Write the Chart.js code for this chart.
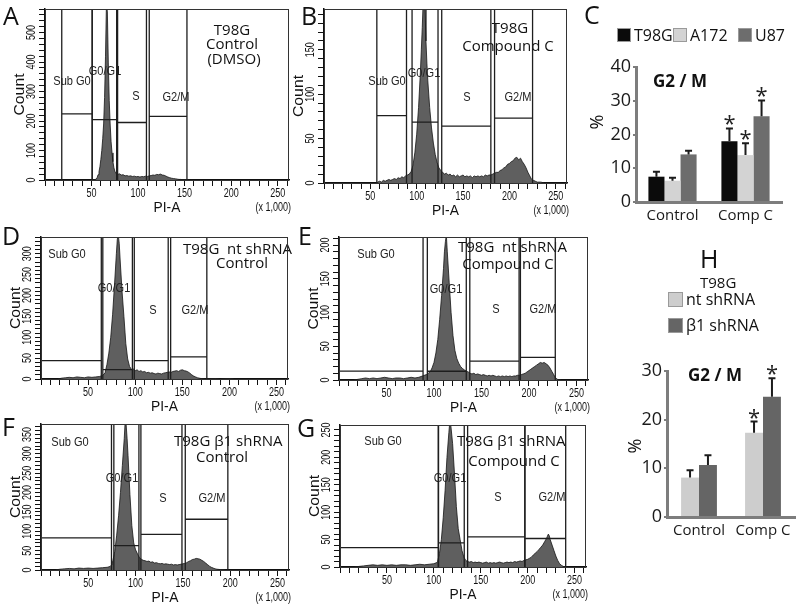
<!DOCTYPE html>
<html><head><meta charset="utf-8"><title>Cell cycle analysis</title>
<script src="https://cdn.jsdelivr.net/npm/chart.js@4.4.1/dist/chart.umd.min.js"></script>
<style>
html,body{margin:0;padding:0;background:#fff}
#wrap{position:relative;width:800px;height:610px;overflow:hidden;background:#fff}
#wrap canvas{position:absolute}
</style></head><body><div id="wrap"></div>
<script>
// ================= DATA =================
const PI_A_MAX = 262.144;               // PI-A axis (x 1,000)
const gateNames = ['Sub G0', 'G0/G1', 'S', 'G2/M'];

// A : T98G Control (DMSO)
const titleA = ['T98G', 'Control', '(DMSO)'];
const histA_x     = [50,52,54,55,56,57,58,59,60,61,62,63,64,65,66,67,68,69,70,71,72,73,74,75,76,77,78,80,82,84,86,88,90,92,94,96,98,100,102,104,106,108,110,112,114,116,118,120,122,124,126,128,130,132,134,136,138,140,142,144,146,148,150,152,156,160];
const histA_count = [0,1,2,3,8,18,28,45,70,100,140,190,280,420,600,570,400,270,190,130,92,62,42,30,24,20,19,21,17,18,14,15,13,14,12,13,11,12,10,12,11,13,12,14,15,17,16,19,18,20,17,16,13,10,8,6,5,4,3,2,2,1,1,1,0,0];
const gatesA = [[18,50.7,224],[50.7,77,205],[78,109,195],[112,152.5,216]];   // [from, to, marker level]

// B : T98G Compound C
const titleB = ['T98G', 'Compound C'];
const histB_x     = [56,58,60,62,64,66,68,70,72,74,76,78,80,82,84,86,88,90,92,94,96,98,100,102,104,105,106,107,108,109,110,111,112,114,116,118,120,122,124,126,128,130,132,134,136,138,140,142,144,146,148,150,152,154,156,158,160,162,164,166,168,170,172,174,176,178,180,182,184,186,188,190,192,194,196,198,200,202,204,206,208,210,212,214,216,218,220,222,224,226,228,230,234,238];
const histB_count = [0,1,2,1,3,2,3,4,3,4,5,4,6,5,7,6,8,9,10,13,20,34,55,85,125,150,175,205,215,195,160,135,115,85,62,45,32,23,17,14,12,10,11,9,10,8,9,7,9,7,8,9,7,8,7,8,6,8,7,8,7,8,7,9,8,9,9,10,11,12,12,14,15,17,18,21,22,24,25,28,29,26,28,24,21,17,12,8,4,3,2,1,1,0];
const gatesB = [[57,89,76],[95,123,68.6],[127,180,64],[184,225,73]];

// D : T98G nt shRNA Control
const titleD = ['T98G  nt shRNA', 'Control'];
const histD_x     = [18,22,26,30,34,38,42,46,50,54,58,62,65,67,68,70,72,74,76,78,80,81,82,83,84,86,88,90,92,94,96,98,100,102,104,106,108,110,112,114,116,118,120,122,124,126,128,130,132,134,136,138,140,142,144,146,148,150,152,154,156,158,160,162,164,166,168,170,174,185,190,200,205];
const histD_count = [0,2,3,4,3,5,4,3,5,4,5,6,8,12,15,35,62,100,155,225,300,335,345,325,285,210,150,85,48,30,23,24,20,22,18,20,17,18,15,16,14,15,13,12,14,13,12,14,15,16,17,16,18,19,20,18,21,22,20,19,17,14,10,7,5,3,2,1,0,1,0,1,0];
const gatesD = [[0,64,44],[65.6,97,22.5],[99,135,44],[137.6,176,53]];

// E : T98G nt shRNA Compound C
const titleE = ['T98G  nt shRNA', 'Compound C'];
const histE_x     = [15,20,24,28,32,36,40,44,48,52,56,60,64,68,72,76,80,84,88,92,94,96,98,100,102,104,106,108,110,111,112,113,114,116,118,120,122,124,126,128,130,132,134,136,138,140,142,144,146,148,150,152,154,156,158,160,162,164,166,168,170,172,174,176,178,180,182,184,186,188,190,192,194,196,198,200,202,204,206,208,210,212,214,216,218,220,222,224,226,228,230,234];
const histE_count = [0,1,2,3,2,3,2,3,4,3,2,3,3,2,3,4,3,4,6,8,10,12,18,26,40,60,90,125,165,190,205,215,190,145,100,66,44,32,25,20,17,15,13,12,10,9,10,8,9,8,7,8,7,6,7,6,7,6,5,6,5,6,5,6,5,6,5,6,6,7,7,8,9,10,12,14,16,18,20,22,24,26,25,26,24,22,18,13,8,3,1,0];
const gatesE = [[0,88.5,13.3],[93,134,13],[137.7,189.6,28],[191,227.7,33.6]];

// F : T98G β1 shRNA Control
const titleF = ['T98G β1 shRNA', 'Control'];
const histF_x     = [15,20,25,30,35,40,45,50,55,60,65,70,73,75,76,78,80,82,84,86,88,89,90,91,92,94,96,98,100,102,104,106,108,110,112,114,116,118,120,122,124,126,128,130,132,134,136,138,140,142,144,146,148,150,152,154,156,158,160,162,164,166,168,170,172,174,176,178,180,182,184,186,190,196];
const histF_count = [0,2,3,4,3,5,4,5,4,5,6,7,9,14,25,48,90,140,200,270,340,385,375,340,295,195,115,70,52,42,32,28,25,24,22,23,20,21,18,19,17,16,17,15,16,15,14,15,13,14,13,14,15,16,17,19,22,24,27,28,30,29,28,25,22,18,14,10,7,5,3,2,1,0];
const gatesF = [[0,74.5,83],[77,103.5,63],[105.6,149,92],[152.5,197.5,131]];

// G : T98G β1 shRNA Compound C
const titleG = ['T98G β1 shRNA', 'Compound C'];
const histG_x     = [15,20,25,30,35,40,45,50,55,60,65,70,75,80,85,90,95,100,103,104,106,108,110,112,114,116,117,118,120,122,124,126,128,130,132,134,136,138,140,142,144,146,148,150,152,154,156,158,160,162,164,166,168,170,172,174,176,178,180,182,184,186,188,190,192,194,196,198,200,202,204,206,208,210,212,214,216,218,220,221,222,223,224,226,228,230,232,234,236,238,242];
const histG_count = [0,1,2,3,4,3,4,3,4,3,4,4,3,4,5,4,5,6,8,10,25,50,90,140,200,245,265,260,225,170,110,70,50,30,18,12,10,9,10,8,9,8,9,8,7,8,9,7,8,7,8,7,8,9,8,7,8,9,8,9,8,10,9,10,11,10,12,13,14,16,18,22,25,28,32,36,40,46,52,56,60,57,50,40,30,20,12,6,3,1,0];
const gatesG = [[0,104.7,35.5],[105,132.4,44],[136,197,55],[197,240.5,52]];

// C : G2/M (%) by cell line
const barC_categories = ['Control', 'Comp C'];
const barC_series = ['T98G', 'A172', 'U87'];
const barC_T98G = [7.5, 18.0];   const barC_T98G_err = [1.5, 3.8];
const barC_A172 = [6.3, 13.9];   const barC_A172_err = [0.9, 3.5];
const barC_U87  = [14.1, 25.4];  const barC_U87_err  = [1.1, 4.7];
const barC_signif = [false, true];
const barC_ymax = 40;

// H : T98G G2/M (%) by shRNA
const barH_header = 'T98G';
const barH_categories = ['Control', 'Comp C'];
const barH_series = ['nt shRNA', 'β1 shRNA'];
const barH_nt = [8.1, 17.3];  const barH_nt_err = [1.5, 2.3];
const barH_b1 = [10.7, 24.7]; const barH_b1_err = [2.0, 3.8];
const barH_signif = [false, true];
const barH_ymax = 30;

// ================= DRAWING =================
const SANS = '"Open Sans", "Noto Sans", sans-serif';
const FACS = '"Liberation Sans", Arial, sans-serif';

function T(ctx, s, x, y, o) {
  o = o || {};
  ctx.save();
  ctx.font = o.font || ('12px ' + FACS);
  ctx.fillStyle = o.color || '#111';
  ctx.textAlign = o.align || 'center';
  ctx.textBaseline = o.baseline || 'middle';
  ctx.translate(x, y);
  if (o.rot) ctx.rotate(o.rot);
  if (o.sx) ctx.scale(o.sx, 1);
  ctx.fillText(s, 0, 0);
  ctx.restore();
}
function mk(box) {
  const c = document.createElement('canvas');
  c.width = box.w; c.height = box.h;
  c.style.left = box.x + 'px'; c.style.top = box.y + 'px';
  c.style.width = box.w + 'px'; c.style.height = box.h + 'px';
  document.getElementById('wrap').appendChild(c);
  return c;
}

const histPanels = [
  {id:'A', xs:histA_x, ys:histA_count, gates:gatesA, title:titleA, box:{x:0,y:0,w:295,h:222}, plot:{l:45,t:9,r:289,b:180}, ymax:580, ystep:20, ylab:100,
   gateLab:[[72,81],[105,71],[136,96],[176,97]], titlePos:[[232,31],[232,45],[234,60]], letter:[3,25]},
  {id:'B', xs:histB_x, ys:histB_count, gates:gatesB, title:titleB, box:{x:292,y:0,w:285,h:222}, plot:{l:324,t:9,r:567,b:183}, ymax:196, ystep:10, ylab:50,
   gateLab:[[387,81],[424,73],[467,97],[518,97]], titlePos:[[510,29],[508,47]], letter:[301,25]},
  {id:'D', xs:histD_x, ys:histD_count, gates:gatesD, title:titleD, box:{x:0,y:215,w:295,h:200}, plot:{l:41,t:237,r:288,b:379}, ymax:340, ystep:10, ylab:50,
   gateLab:[[67,254],[114,288],[153,310],[195,310]], titlePos:[[183,250,'left'],[242,264]], letter:[2,245]},
  {id:'E', xs:histE_x, ys:histE_count, gates:gatesE, title:titleE, box:{x:292,y:215,w:305,h:200}, plot:{l:339,t:237,r:588,b:380}, ymax:212, ystep:10, ylab:50,
   gateLab:[[376,254],[446,289],[496,309],[543,309]], titlePos:[[458,248,'left'],[508,265]], letter:[298,245]},
  {id:'F', xs:histF_x, ys:histF_count, gates:gatesF, title:titleF, box:{x:0,y:410,w:295,h:200}, plot:{l:41,t:424,r:289,b:570}, ymax:377, ystep:10, ylab:50,
   gateLab:[[70,442],[122,478],[163,498],[212,498]], titlePos:[[174,442,'left'],[222,458]], letter:[2,436]},
  {id:'G', xs:histG_x, ys:histG_count, gates:gatesG, title:titleG, box:{x:292,y:410,w:305,h:200}, plot:{l:340,t:425,r:586,b:567}, ymax:259, ystep:10, ylab:50,
   gateLab:[[383,441],[450,478],[498,497],[552,497]], titlePos:[[457,442,'left'],[514,462]], letter:[297,437]}
];

function drawHist(p) {
  const cv = mk(p.box);
  const YW = 7, XH = 7;
  const pad = {left: p.plot.l - p.box.x - YW, top: p.plot.t - p.box.y,
               right: p.box.x + p.box.w - p.plot.r, bottom: p.box.y + p.box.h - p.plot.b - XH};
  const plug = {
    id: 'facs' + p.id,
    afterDatasetsDraw(chart) {
      const ctx = chart.ctx, xs = chart.scales.x, ys = chart.scales.y, ca = chart.chartArea;
      ctx.save(); ctx.translate(-p.box.x, -p.box.y);
      p.title.forEach((s, i) => { const tp = p.titlePos[i]; T(ctx, s, tp[0], tp[1], {font:'15px ' + SANS, align: tp[2] || 'center', color:'#111'}); });
      gateNames.forEach((s, i) => { const g = p.gateLab[i]; T(ctx, s, g[0], g[1], {font:'13px ' + FACS, sx:0.85, color:'#222'}); });
      ctx.restore();
      ctx.save();
      ctx.strokeStyle = '#1e1e1e'; ctx.lineWidth = 1.3;
      p.gates.forEach(g => {
        const x1 = xs.getPixelForValue(g[0]), x2 = xs.getPixelForValue(g[1]), y = ys.getPixelForValue(g[2]);
        ctx.beginPath();
        ctx.moveTo(x1, ca.bottom); ctx.lineTo(x1, ca.top);
        ctx.moveTo(x2, ca.bottom); ctx.lineTo(x2, ca.top);
        ctx.moveTo(x1, y); ctx.lineTo(x2, y);
        ctx.stroke();
      });
      ctx.restore();
    },
    afterDraw(chart) {
      const ctx = chart.ctx, xs = chart.scales.x, ys = chart.scales.y, ca = chart.chartArea;
      ctx.save();
      ctx.strokeStyle = '#333'; ctx.lineWidth = 1;
      ctx.strokeRect(Math.round(ca.left) + 0.5, Math.round(ca.top) + 0.5, Math.round(ca.right - ca.left) - 1, Math.round(ca.bottom - ca.top));
      xs.ticks.forEach(t => { if (t.value > 0 && t.value % 50 === 0) T(ctx, String(t.value), xs.getPixelForValue(t.value), ca.bottom + 14, {font:'12px ' + FACS, sx:0.75}); });
      ys.ticks.forEach(t => { if (t.value % p.ylab === 0) T(ctx, String(t.value), ca.left - 13, ys.getPixelForValue(t.value), {font:'12px ' + FACS, sx:0.75, rot:-Math.PI / 2}); });
      const mid = (ca.left + ca.right) / 2;
      T(ctx, 'PI-A', mid, ca.bottom + 28, {font:'15px ' + FACS, sx:0.92});
      T(ctx, '(x 1,000)', ca.right + 2, ca.bottom + 28, {font:'12px ' + FACS, sx:0.75, align:'right'});
      T(ctx, 'Count', ca.left - 25, (ca.top + ca.bottom) / 2, {font:'15px ' + FACS, sx:1.05, rot:-Math.PI / 2});
      ctx.restore();
      ctx.save(); ctx.translate(-p.box.x, -p.box.y);
      T(ctx, p.id, p.letter[0], p.letter[1], {font:'25px ' + SANS, align:'left', baseline:'alphabetic'});
      ctx.restore();
    }
  };
  new Chart(cv, {
    type: 'line',
    data: {datasets: [{data: p.xs.map((v, i) => ({x: v, y: p.ys[i]})), fill: 'origin',
      backgroundColor: '#5f5f5f', borderColor: '#151515', borderWidth: 0.8, pointRadius: 0, tension: 0}]},
    options: {
      responsive: false, animation: false, events: [],
      layout: {padding: pad},
      plugins: {legend: {display: false}, tooltip: {enabled: false}},
      scales: {
        x: {type: 'linear', min: 0, max: PI_A_MAX, afterFit: s => { s.height = XH; },
            grid: {drawOnChartArea: false, drawTicks: true, tickLength: 6, color: '#111', lineWidth: 1},
            border: {color: '#111', width: 1.5},
            ticks: {stepSize: 10, includeBounds: false, autoSkip: false, display: false}},
        y: {type: 'linear', min: 0, max: p.ymax, afterFit: s => { s.width = YW; },
            grid: {drawOnChartArea: false, drawTicks: true, tickLength: 6, color: '#111', lineWidth: 1},
            border: {color: '#111', width: 1.5},
            ticks: {stepSize: p.ystep, includeBounds: false, autoSkip: false, display: false}}
      }
    },
    plugins: [plug]
  });
}

const barPanels = [
  {id:'C', cats:barC_categories, series:barC_series, vals:[barC_T98G, barC_A172, barC_U87], errs:[barC_T98G_err, barC_A172_err, barC_U87_err],
   sig:barC_signif, ymax:barC_ymax, colors:['#0b0b0b', '#d3d3d3', '#6d6d6d'],
   box:{x:570,y:0,w:230,h:232}, plot:{l:636,t:67,r:782,b:202}, catPct:0.66,
   letter:[584,24], legend:{type:'row', boxes:[[617,28],[673,28],[738,28]], size:14, header:null},
   title:[653,82], pct:[598,122]},
  {id:'H', cats:barH_categories, series:barH_series, vals:[barH_nt, barH_b1], errs:[barH_nt_err, barH_b1_err],
   sig:barH_signif, ymax:barH_ymax, colors:['#cdcdcd', '#656565'],
   box:{x:590,y:240,w:210,h:300}, plot:{l:667,t:371,r:795,b:517}, catPct:0.56,
   letter:[700,268], legend:{type:'col', boxes:[[668,292],[668,318]], size:15, header:[barH_header, 700, 284]},
   title:[688,376], pct:[636,446]}
];

function drawBar(p) {
  const cv = mk(p.box);
  const YW = 34, XH = 26;
  const pad = {left: p.plot.l - p.box.x - YW, top: p.plot.t - p.box.y,
               right: p.box.x + p.box.w - p.plot.r, bottom: p.box.y + p.box.h - p.plot.b - XH};
  const plug = {
    id: 'bars' + p.id,
    afterDatasetsDraw(chart) {
      const ctx = chart.ctx, ys = chart.scales.y;
      ctx.save();
      chart.data.datasets.forEach((ds, i) => {
        chart.getDatasetMeta(i).data.forEach((bar, j) => {
          const v = p.vals[i][j], e = p.errs[i][j];
          const yb = ys.getPixelForValue(v), yt = ys.getPixelForValue(v + e);
          ctx.strokeStyle = '#1c1c1c'; ctx.lineWidth = 2;
          ctx.beginPath();
          ctx.moveTo(bar.x, yb); ctx.lineTo(bar.x, yt);
          ctx.moveTo(bar.x - 3.5, yt); ctx.lineTo(bar.x + 3.5, yt);
          ctx.stroke();
          if (p.sig[j]) T(ctx, '*', bar.x, yt + 3, {font:'22px ' + SANS, baseline:'alphabetic', color:'#222'});
        });
      });
      ctx.restore();
    },
    afterDraw(chart) {
      const ctx = chart.ctx;
      ctx.save(); ctx.translate(-p.box.x, -p.box.y);
      const L = p.legend, sz = L.size;
      chart.data.datasets.forEach((ds, i) => {
        const b = L.boxes[i];
        ctx.fillStyle = ds.backgroundColor; ctx.fillRect(b[0], b[1], sz, sz);
        ctx.strokeStyle = '#9a9a9a'; ctx.lineWidth = 1; ctx.strokeRect(b[0] + 0.5, b[1] + 0.5, sz - 1, sz - 1);
        T(ctx, ds.label, b[0] + sz + 3, b[1] + sz / 2 + 1, {font:'16px ' + SANS, align:'left', color:'#111'});
      });
      if (L.header) T(ctx, L.header[0], L.header[1], L.header[2], {font:'15px ' + SANS, align:'left', color:'#111'});
      T(ctx, 'G2 / M', p.title[0], p.title[1], {font:'bold 17px ' + SANS, align:'left', color:'#111'});
      T(ctx, '%', p.pct[0], p.pct[1], {font:'18px ' + SANS, rot:-Math.PI / 2, color:'#111'});
      T(ctx, p.id, p.letter[0], p.letter[1], {font:'25px ' + SANS, align:'left', baseline:'alphabetic'});
      ctx.restore();
    }
  };
  new Chart(cv, {
    type: 'bar',
    data: {labels: p.cats, datasets: p.series.map((s, i) => ({label: s, data: p.vals[i], backgroundColor: p.colors[i],
      borderWidth: 0, categoryPercentage: p.catPct, barPercentage: 1}))},
    options: {
      responsive: false, animation: false, events: [],
      layout: {padding: pad},
      plugins: {legend: {display: false}, tooltip: {enabled: false}},
      scales: {
        x: {grid: {display: false, drawTicks: false}, border: {color: '#7d7d7d', width: 3},
            ticks: {font: {family: SANS, size: 15}, color: '#1a1a1a', padding: 5, maxRotation: 0}, afterFit: s => { s.height = XH; }},
        y: {min: 0, max: p.ymax, afterFit: s => { s.width = YW; },
            grid: {drawOnChartArea: false, drawTicks: true, tickLength: 3, color: '#7d7d7d', lineWidth: 2},
            border: {color: '#7d7d7d', width: 3},
            ticks: {stepSize: 10, font: {family: SANS, size: 18}, color: '#1a1a1a', padding: 2}}
      }
    },
    plugins: [plug]
  });
}

function build() {
  histPanels.forEach(drawHist);
  barPanels.forEach(drawBar);
}
if (document.fonts && document.fonts.load) {
  Promise.all([document.fonts.load('15px "Open Sans"'), document.fonts.load('bold 15px "Open Sans"'), document.fonts.load('12px "Liberation Sans"')])
    .then(build, build);
} else { build(); }
</script>
</body></html>
